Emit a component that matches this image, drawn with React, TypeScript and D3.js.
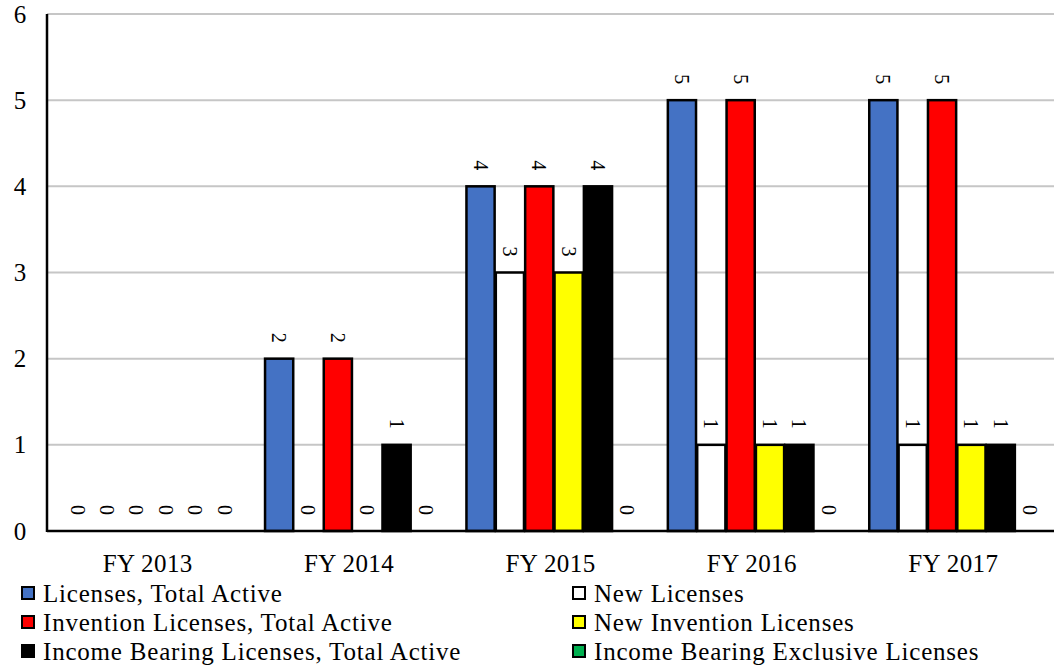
import React, { useEffect, useRef } from 'react';
import * as d3 from 'd3';

const categories = ['FY 2013', 'FY 2014', 'FY 2015', 'FY 2016', 'FY 2017'];
const seriesNames = [
  'Licenses, Total Active',
  'New Licenses',
  'Invention Licenses, Total Active',
  'New Invention Licenses',
  'Income Bearing Licenses, Total Active',
  'Income Bearing Exclusive Licenses',
];
const seriesColors = ['#4472C4', '#FFFFFF', '#FF0000', '#FFFF00', '#000000', '#00B050'];
const licensesTotal = [0, 2, 4, 5, 5];
const newLicenses = [0, 0, 3, 1, 1];
const inventionTotal = [0, 2, 4, 5, 5];
const newInvention = [0, 0, 3, 1, 1];
const incomeTotal = [0, 1, 4, 1, 1];
const incomeExclusive = [0, 0, 0, 0, 0];
const yTicks = [0, 1, 2, 3, 4, 5, 6];

const seriesValues = [licensesTotal, newLicenses, inventionTotal, newInvention, incomeTotal, incomeExclusive];

const App: React.FC = () => {
  const svgRef = useRef<SVGSVGElement>(null);

  useEffect(() => {
    if (!svgRef.current) return;
    const width = 1054;
    const height = 667;
    const left = 47;
    const right = 1054;
    const top = 14;
    const bottom = 531;
    const font = '"Liberation Serif", "Times New Roman", serif';

    const svg = d3.select(svgRef.current).attr('width', width).attr('height', height).html('');

    const y = d3.scaleLinear().domain([0, 6]).range([bottom, top]);
    const x0 = d3.scaleBand<string>().domain(categories).range([left, right]);
    const x1 = d3
      .scaleBand<number>()
      .domain(d3.range(seriesNames.length))
      .range([0, x0.bandwidth()])
      .paddingInner(0.04)
      .paddingOuter(0.45)
      .align(0.63);

    // gridlines
    svg
      .append('g')
      .selectAll('line')
      .data(yTicks.filter((t) => t > 0))
      .enter()
      .append('line')
      .attr('x1', left)
      .attr('x2', right)
      .attr('y1', (d) => y(d))
      .attr('y2', (d) => y(d))
      .style('stroke', '#c6c6c6')
      .style('stroke-width', 2);

    // y labels
    svg
      .append('g')
      .selectAll('text')
      .data(yTicks)
      .enter()
      .append('text')
      .attr('x', 20)
      .attr('y', (d) => y(d))
      .attr('text-anchor', 'middle')
      .attr('dominant-baseline', 'central')
      .style('font-family', font)
      .style('font-size', '25px')
      .text((d) => d);

    // bars
    const rows = categories.map((c, i) => ({ cat: c, vals: seriesValues.map((s) => s[i]) }));
    const groups = svg
      .append('g')
      .selectAll('g')
      .data(rows)
      .enter()
      .append('g')
      .attr('transform', (d) => `translate(${x0(d.cat)},0)`);

    groups
      .selectAll('rect')
      .data((d) => d.vals.map((v, k) => ({ v, k })).filter((e) => e.v > 0))
      .enter()
      .append('rect')
      .attr('x', (d) => x1(d.k)!)
      .attr('width', x1.bandwidth())
      .attr('y', (d) => y(d.v))
      .attr('height', (d) => y(0) - y(d.v))
      .style('fill', (d) => seriesColors[d.k])
      .style('stroke', '#000')
      .style('stroke-width', 2.5);

    groups
      .selectAll('text')
      .data((d) => d.vals.map((v, k) => ({ v, k })))
      .enter()
      .append('text')
      .attr('transform', (d) => `translate(${x1(d.k)! + x1.bandwidth() / 2},${y(d.v) - 21}) rotate(90)`)
      .attr('text-anchor', 'middle')
      .attr('dominant-baseline', 'central')
      .style('font-family', font)
      .style('font-size', '20px')
      .text((d) => d.v);

    // axes lines
    svg
      .append('line')
      .attr('x1', left)
      .attr('x2', left)
      .attr('y1', top)
      .attr('y2', bottom + 1)
      .style('stroke', '#000')
      .style('stroke-width', 2.5);
    svg
      .append('line')
      .attr('x1', left)
      .attr('x2', right)
      .attr('y1', bottom)
      .attr('y2', bottom)
      .style('stroke', '#000')
      .style('stroke-width', 2.5);

    // category labels
    svg
      .append('g')
      .selectAll('text')
      .data(categories)
      .enter()
      .append('text')
      .attr('x', (d) => x0(d)! + x0.bandwidth() / 2)
      .attr('y', 563)
      .attr('text-anchor', 'middle')
      .attr('dominant-baseline', 'central')
      .style('font-family', font)
      .style('font-size', '25px')
      .style('letter-spacing', '0.4px')
      .text((d) => d);

    // legend
    const legend = svg
      .append('g')
      .selectAll('g')
      .data(seriesNames)
      .enter()
      .append('g')
      .attr('transform', (d, i) => `translate(${i % 2 === 0 ? 22 : 573},${593 + Math.floor(i / 2) * 29})`);
    legend
      .append('rect')
      .attr('x', 0)
      .attr('y', -6)
      .attr('width', 12)
      .attr('height', 12)
      .style('fill', (d, i) => seriesColors[i])
      .style('stroke', '#000')
      .style('stroke-width', 2);
    legend
      .append('text')
      .attr('x', 21)
      .attr('y', 0)
      .attr('dominant-baseline', 'central')
      .style('font-family', font)
      .style('font-size', '25px')
      .style('letter-spacing', '0.8px')
      .text((d) => d);
  }, []);

  return <svg ref={svgRef} style={{ position: 'absolute', left: 0, top: 0, background: '#fff' }}></svg>;
};

export default App;
